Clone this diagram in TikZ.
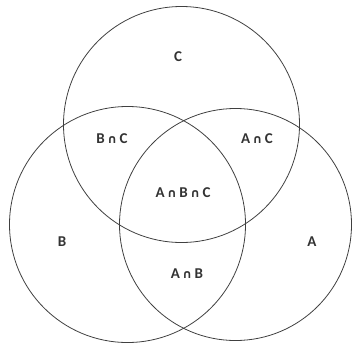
\documentclass[tikz,border=0pt]{standalone}
\usepackage{fontspec}
\setmainfont{Carlito}
\newfontfamily\symfont{DejaVu Sans}
\newcommand{\capsym}{\hspace{2.5pt}{\symfont\fontsize{12}{14}\selectfont ∩}\hspace{2.5pt}}
\begin{document}
\begin{tikzpicture}[x=1pt,y=-1pt,
  setcircle/.style={draw=black!75, line width=0.8pt},
  setlabel/.style={font=\fontsize{15}{17}\selectfont\bfseries, text=black!80}]
\useasboundingbox (0,0) rectangle (352,343);
\draw[setcircle] (181.5,124.5) circle (118);
\draw[setcircle] (127.5,224.5) circle (118);
\draw[setcircle] (235.5,224.5) circle (116);
\node[setlabel] (c) at (178,57) {C};
\node[setlabel] (bc) at (112,139) {B\capsym C};
\node[setlabel] (ac) at (257,139) {A\capsym C};
\node[setlabel] (abc) at (183,193) {A\capsym B\capsym C};
\node[setlabel] (b) at (62,242) {B};
\node[setlabel] (a) at (312,242) {A};
\node[setlabel] (ab) at (187,274) {A\capsym B};
\end{tikzpicture}
\end{document}
